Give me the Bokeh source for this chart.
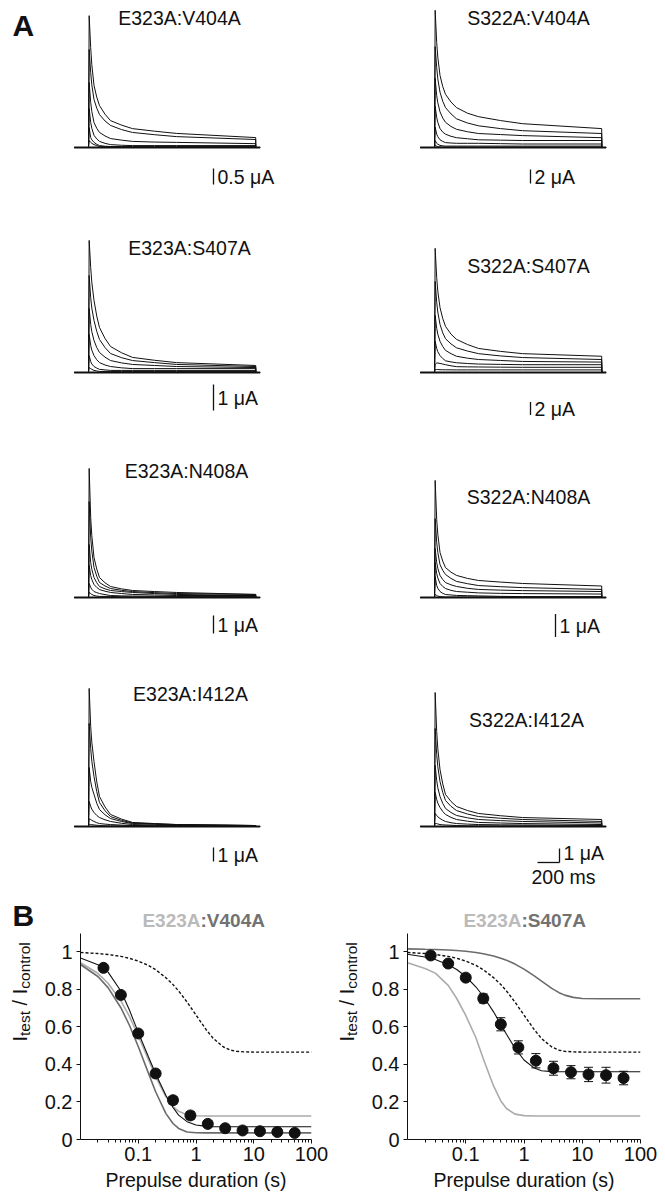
import math
from bokeh.plotting import figure
from bokeh.layouts import column, row
from bokeh.models import Range1d, Label, FixedTicker, PrintfTickFormatter, Title
from bokeh.embed import file_html
from bokeh.resources import INLINE

FONT = "Liberation Sans"
INK = "#111111"

# ======================= DATA =======================
# ---- Panel A: current traces (uA) sampled at these times after pulse onset ----
pulse_pre_ms = -130
pulse_end_ms = 1520
trace_t_ms = [6, 20, 30, 50, 75, 100, 150, 200, 300, 400, 600, 800, 1520]

e323a_v404a_uA = [
    [4.12, 3.12, 2.59, 1.94, 1.57, 1.31, 1.04, 0.84, 0.70, 0.59, 0.51, 0.44, 0.31],
    [3.06, 2.34, 1.96, 1.50, 1.23, 1.03, 0.83, 0.69, 0.56, 0.47, 0.40, 0.34, 0.25],
    [2.03, 1.41, 1.13, 0.78, 0.60, 0.47, 0.36, 0.28, 0.23, 0.19, 0.17, 0.16, 0.12],
    [1.22, 0.78, 0.60, 0.38, 0.27, 0.19, 0.13, 0.09, 0.07, 0.06, 0.06, 0.06, 0.06],
    [0.62, 0.31, 0.24, 0.16, 0.10, 0.06, 0.04, 0.03, 0.03, 0.03, 0.03, 0.03, 0.03],
    [0.22, 0.16, 0.13, 0.09, 0.06, 0.03, 0.02, 0.02, 0.01, 0.00, 0.00, 0.00, 0.00],
]
s322a_v404a_uA = [
    [19.6, 15.0, 12.9, 10.3, 8.7, 7.6, 6.5, 5.7, 4.9, 4.4, 3.85, 3.4, 2.7],
    [14.4, 11.4, 9.8, 7.9, 6.6, 5.7, 4.8, 4.1, 3.5, 3.1, 2.7, 2.4, 2.0],
    [9.9, 7.4, 6.4, 5.1, 4.2, 3.6, 3.0, 2.6, 2.25, 2.0, 1.85, 1.7, 1.4],
    [5.9, 4.3, 3.6, 2.7, 2.2, 1.9, 1.6, 1.4, 1.25, 1.1, 1.05, 1.0, 1.0],
    [2.9, 1.9, 1.55, 1.1, 0.87, 0.7, 0.64, 0.6, 0.6, 0.6, 0.55, 0.5, 0.5],
    [1.0, 0.6, 0.47, 0.3, 0.24, 0.2, 0.2, 0.2, 0.2, 0.2, 0.2, 0.2, 0.2],
    [0.4, 0.15, 0.11, 0.07, 0.05, 0.04, 0.04, 0.04, 0.04, 0.04, 0.04, 0.04, 0.04],
]
e323a_s407a_uA = [
    [5.08, 4.04, 3.47, 2.77, 2.17, 1.73, 1.31, 1.00, 0.76, 0.58, 0.47, 0.38, 0.27],
    [3.73, 2.88, 2.48, 2.00, 1.58, 1.27, 0.96, 0.73, 0.57, 0.46, 0.38, 0.31, 0.23],
    [2.46, 1.85, 1.57, 1.23, 0.96, 0.77, 0.59, 0.46, 0.37, 0.31, 0.27, 0.23, 0.19],
    [1.46, 1.04, 0.86, 0.65, 0.49, 0.38, 0.29, 0.23, 0.18, 0.15, 0.15, 0.15, 0.15],
    [0.65, 0.42, 0.33, 0.23, 0.17, 0.12, 0.10, 0.08, 0.08, 0.08, 0.08, 0.08, 0.08],
    [0.19, 0.15, 0.12, 0.08, 0.06, 0.04, 0.04, 0.04, 0.04, 0.04, 0.04, 0.04, 0.04],
]
s322a_s407a_uA = [
    [19.1, 14.6, 12.5, 10.0, 8.3, 7.1, 5.9, 5.1, 4.3, 3.7, 3.25, 2.9, 2.5],
    [14.0, 10.8, 9.3, 7.4, 6.1, 5.2, 4.4, 3.8, 3.3, 2.9, 2.55, 2.3, 2.0],
    [8.8, 6.8, 5.9, 4.8, 4.0, 3.4, 2.9, 2.5, 2.2, 2.0, 1.85, 1.7, 1.6],
    [4.8, 3.7, 3.2, 2.6, 2.15, 1.8, 1.63, 1.5, 1.38, 1.3, 1.25, 1.2, 1.2],
    [1.2, 1.5, 1.45, 1.4, 1.3, 1.2, 1.03, 0.9, 0.87, 0.85, 0.82, 0.8, 0.8],
    [0.46, 0.46, 0.45, 0.43, 0.42, 0.42, 0.41, 0.4, 0.4, 0.4, 0.4, 0.4, 0.4],
]
e323a_n408a_uA = [
    [7.17, 4.44, 3.44, 2.22, 1.58, 1.11, 0.82, 0.61, 0.48, 0.39, 0.33, 0.28, 0.17],
    [5.33, 3.33, 2.58, 1.67, 1.18, 0.83, 0.64, 0.50, 0.40, 0.33, 0.27, 0.22, 0.17],
    [2.94, 1.94, 1.57, 1.11, 0.82, 0.61, 0.48, 0.39, 0.33, 0.28, 0.22, 0.17, 0.11],
    [1.78, 1.22, 1.00, 0.72, 0.56, 0.44, 0.35, 0.28, 0.22, 0.17, 0.14, 0.11, 0.11],
    [0.78, 0.56, 0.46, 0.33, 0.27, 0.22, 0.16, 0.11, 0.09, 0.08, 0.07, 0.06, 0.06],
    [0.28, 0.22, 0.17, 0.11, 0.08, 0.06, 0.06, 0.06, 0.04, 0.03, 0.03, 0.03, 0.03],
]
s322a_n408a_uA = [
    [5.09, 3.39, 2.75, 1.96, 1.58, 1.30, 1.10, 0.96, 0.83, 0.74, 0.67, 0.61, 0.50],
    [3.43, 2.39, 1.96, 1.43, 1.18, 1.00, 0.83, 0.70, 0.60, 0.52, 0.47, 0.43, 0.35],
    [2.13, 1.52, 1.27, 0.96, 0.78, 0.65, 0.55, 0.48, 0.40, 0.35, 0.32, 0.30, 0.26],
    [1.52, 1.04, 0.85, 0.61, 0.48, 0.39, 0.31, 0.26, 0.23, 0.20, 0.18, 0.17, 0.15],
    [0.91, 0.52, 0.40, 0.26, 0.18, 0.13, 0.11, 0.09, 0.08, 0.07, 0.05, 0.04, 0.04],
    [0.13, 0.09, 0.06, 0.04, 0.03, 0.02, 0.02, 0.02, 0.02, 0.02, 0.02, 0.02, 0.02],
]
e323a_i412a_uA = [
    [9.86, 7.14, 6.02, 4.64, 3.19, 2.14, 1.40, 0.86, 0.53, 0.29, 0.21, 0.14, 0.07],
    [7.36, 5.57, 4.67, 3.57, 2.49, 1.71, 1.13, 0.71, 0.44, 0.25, 0.19, 0.14, 0.07],
    [4.21, 3.21, 2.80, 2.29, 1.66, 1.21, 0.84, 0.57, 0.36, 0.21, 0.16, 0.11, 0.07],
    [1.79, 1.43, 1.24, 1.00, 0.79, 0.64, 0.48, 0.36, 0.23, 0.14, 0.10, 0.07, 0.04],
    [0.54, 0.50, 0.44, 0.36, 0.27, 0.21, 0.17, 0.14, 0.10, 0.07, 0.05, 0.04, 0.04],
    [0.17, 0.14, 0.13, 0.11, 0.09, 0.07, 0.05, 0.04, 0.04, 0.04, 0.03, 0.02, 0.02],
]
s322a_i412a_uA = [
    [9.57, 6.79, 5.57, 4.07, 3.04, 2.29, 1.79, 1.43, 1.14, 0.93, 0.77, 0.64, 0.50],
    [7.00, 5.14, 4.27, 3.21, 2.43, 1.86, 1.44, 1.14, 0.89, 0.71, 0.59, 0.50, 0.36],
    [4.36, 3.29, 2.77, 2.14, 1.65, 1.29, 1.00, 0.79, 0.62, 0.50, 0.42, 0.36, 0.25],
    [2.43, 1.93, 1.67, 1.36, 1.07, 0.86, 0.65, 0.50, 0.38, 0.29, 0.25, 0.21, 0.14],
    [0.93, 0.79, 0.69, 0.57, 0.45, 0.36, 0.27, 0.21, 0.17, 0.14, 0.12, 0.11, 0.07],
    [0.21, 0.21, 0.18, 0.14, 0.12, 0.11, 0.09, 0.07, 0.05, 0.04, 0.04, 0.04, 0.04],
]
a_titles = ["E323A:V404A", "S322A:V404A", "E323A:S407A", "S322A:S407A",
            "E323A:N408A", "S322A:N408A", "E323A:I412A", "S322A:I412A"]
a_scale_uA = [0.5, 2, 1, 2, 1, 1, 1, 1]
time_bar_ms = 200

# ---- Panel B: normalised test current vs prepulse duration ----
prepulse_s = [0.025, 0.05, 0.1, 0.2, 0.4, 0.8, 1.6, 3.2, 6.4, 12.8, 25.6, 51.2]
e323a_v404a_mean = [0.913, 0.769, 0.564, 0.351, 0.209, 0.128, 0.083, 0.060, 0.048, 0.044, 0.040, 0.035]
e323a_v404a_sem = [0.008, 0.010, 0.010, 0.015, 0.020, 0.020, 0.015, 0.012, 0.012, 0.010, 0.010, 0.012]
e323a_s407a_mean = [0.979, 0.936, 0.861, 0.750, 0.613, 0.490, 0.419, 0.379, 0.358, 0.346, 0.342, 0.327]
e323a_s407a_sem = [0.008, 0.010, 0.012, 0.024, 0.035, 0.035, 0.038, 0.037, 0.035, 0.038, 0.042, 0.036]

fit_t_s = [0.01, 0.02, 0.03, 0.05, 0.07, 0.1, 0.15, 0.2, 0.3, 0.4, 0.5, 0.7, 1, 1.5, 2, 3, 4, 5, 7, 10, 20, 100]
wt_fit = [0.995, 0.989, 0.984, 0.974, 0.964, 0.949, 0.926, 0.903, 0.861, 0.824, 0.790, 0.731,
          0.662, 0.584, 0.537, 0.492, 0.475, 0.469, 0.466, 0.465, 0.465, 0.465]
e323a_fit_left = [0.940, 0.884, 0.831, 0.737, 0.656, 0.553, 0.425, 0.335, 0.228, 0.175, 0.150, 0.131,
                  0.126, 0.125, 0.125, 0.125, 0.125, 0.125, 0.125, 0.125, 0.125, 0.125]
v404a_fit = [0.931, 0.867, 0.808, 0.701, 0.609, 0.495, 0.353, 0.254, 0.139, 0.085, 0.059, 0.040,
             0.036, 0.035, 0.035, 0.035, 0.035, 0.035, 0.035, 0.035, 0.035, 0.035]
e323a_v404a_fit = [0.965, 0.930, 0.890, 0.790, 0.690, 0.570, 0.440, 0.350, 0.235, 0.170, 0.130, 0.095,
                   0.077, 0.070, 0.068, 0.068, 0.068, 0.068, 0.068, 0.068, 0.068, 0.068]
s407a_fit = [1.014, 1.012, 1.011, 1.008, 1.005, 1.001, 0.995, 0.988, 0.976, 0.964, 0.954, 0.933,
             0.906, 0.870, 0.842, 0.804, 0.781, 0.768, 0.756, 0.750, 0.749, 0.749]
e323a_fit_right = [0.940, 0.910, 0.885, 0.820, 0.750, 0.660, 0.540, 0.430, 0.285, 0.205, 0.165, 0.135,
                   0.127, 0.125, 0.125, 0.125, 0.125, 0.125, 0.125, 0.125, 0.125, 0.125]
e323a_s407a_fit = [0.985, 0.971, 0.957, 0.930, 0.904, 0.867, 0.811, 0.762, 0.679, 0.612, 0.560, 0.486,
                   0.423, 0.380, 0.366, 0.361, 0.360, 0.360, 0.360, 0.360, 0.360, 0.360]

# ======================= LAYOUT (page pixels) =======================
COL_X = [0, 332]
COL_W = [332, 333]
ROW_Y = [0, 200, 425, 650]
ROW_H = [200, 225, 225, 240]
PULSE_X = [88, 434]
BASE_Y = [147, 372, 597, 826]
MS_PER_PX = 200.0 / 22.0
PX_PER_UA = [32, 7, 26, 6.5, 18, 23, 14, 14]
TITLE_XY = [(179, 17), (528, 17), (189, 247), (528, 265),
            (186, 470), (528, 496), (190, 693), (526, 719)]
BAR_X = [213, 530, 213, 530, 213, 555, 213, 559]
BAR_CY = [176, 176, 397, 408, 624, 625, 854, 855]
LABEL_CY = [176, 176, 397, 408, 624, 625, 854, 852]
TXT = "19.5px"
NB = "\u00a0"
YT_PARTS = [("I", 20, 0, 0.278), ("test", 15.5, 4.5, 1.612),
            (NB + "/" + NB + "I", 20, 0, 1.112), ("control", 15.5, 4.5, 3.001)]


def lab(p, x, y, text, units="screen", **kw):
    opts = dict(text_font=FONT, text_font_size=TXT, text_color=INK,
                text_align="center", text_baseline="middle")
    opts.update(kw)
    p.add_layout(Label(x=x, y=y, x_units=units, y_units=units, text=text, **opts))


def blank(w, h):
    p = figure(width=w, height=h, x_range=Range1d(0, w), y_range=Range1d(0, h),
               x_axis_type=None, y_axis_type=None, toolbar_location=None,
               output_backend="svg", min_border=0)
    p.outline_line_color = None
    p.background_fill_color = "white"
    p.border_fill_color = "white"
    return p


def a_panel(i, traces):
    r, c = divmod(i, 2)
    fx, fy, W, H = COL_X[c], ROW_Y[r], COL_W[c], ROW_H[r]
    ppu = PX_PER_UA[i]
    x0 = -(PULSE_X[c] - fx) * MS_PER_PX
    b = fy + H - BASE_Y[r]
    p = figure(width=W, height=H, x_range=Range1d(x0, x0 + W * MS_PER_PX),
               y_range=Range1d(-b / ppu, (H - b) / ppu),
               x_axis_type=None, y_axis_type=None, toolbar_location=None,
               output_backend="svg", min_border=0)
    p.outline_line_color = None
    p.background_fill_color = "white"
    p.border_fill_color = "white"
    xs = [[pulse_pre_ms, 0] + trace_t_ms + [pulse_end_ms + 1, pulse_end_ms + 40] for _ in traces]
    ys = [[0, 0] + list(tr) + [0, 0] for tr in traces]
    p.multi_line(xs, ys, line_color=INK, line_width=1)
    p.line([pulse_pre_ms, pulse_end_ms + 40], [0, 0], line_color=INK, line_width=2)

    sx = lambda px: px - fx
    sy = lambda py: fy + H - py
    tx, ty = TITLE_XY[i]
    lab(p, sx(tx), sy(ty), a_titles[i])

    s = a_scale_uA[i]
    xb = (BAR_X[i] - PULSE_X[c]) * MS_PER_PX
    yc = (BASE_Y[r] - BAR_CY[i]) / ppu
    p.segment(x0=[xb], y0=[yc - s / 2], x1=[xb], y1=[yc + s / 2], line_color=INK, line_width=1.3)
    p.add_layout(Label(x=xb, y=(BASE_Y[r] - LABEL_CY[i]) / ppu, x_units="data", y_units="data",
                       x_offset=4, text=f"{s:g} μA", text_font=FONT, text_font_size=TXT,
                       text_color=INK, text_align="left", text_baseline="middle"))
    if i == 7:
        p.segment(x0=[xb - time_bar_ms], y0=[yc - s / 2], x1=[xb], y1=[yc - s / 2],
                  line_color=INK, line_width=1.3)
        lab(p, sx(563), sy(876), f"{time_bar_ms} ms")
    if i == 0:
        lab(p, sx(12), sy(25), "A", text_font_size="30px", text_font_style="bold",
            text_align="left")
    return p


a_data = [e323a_v404a_uA, s322a_v404a_uA, e323a_s407a_uA, s322a_s407a_uA,
          e323a_n408a_uA, s322a_n408a_uA, e323a_i412a_uA, s322a_i412a_uA]
a_figs = [a_panel(i, d) for i, d in enumerate(a_data)]

# ---- panel B layout ----
B_TITLE_TOP = 890
FRAME_TOP, FRAME_BOT = 933, 1139
PAGE_BOT = 1196
PX_PER_UNIT = 188.0
YT_W = [38, 33]
FRAME_L = [80, 407]
FRAME_R = [311, 640]
XLABEL_CX = [203.5, 532]
LIGHT = "#ababab"
DARK = "#6b6b6b"


def b_plot(c, mean, sem, curves):
    fx = COL_X[c] + YT_W[c]
    W = COL_W[c] - YT_W[c]
    p = figure(width=W, height=PAGE_BOT - FRAME_TOP, x_axis_type="log",
               x_range=Range1d(0.01, 100),
               y_range=Range1d(0, (FRAME_BOT - FRAME_TOP) / PX_PER_UNIT),
               toolbar_location=None, output_backend="svg",
               min_border_left=FRAME_L[c] - fx, min_border_right=fx + W - FRAME_R[c],
               min_border_top=0, min_border_bottom=PAGE_BOT - FRAME_BOT)
    p.outline_line_color = None
    p.grid.visible = False
    p.background_fill_color = "white"
    p.border_fill_color = "white"

    xa = p.xaxis[0]
    xa.ticker = FixedTicker(ticks=[0.1, 1, 10, 100],
                            minor_ticks=[m * 10.0 ** e for e in range(-2, 2) for m in range(2, 10)])
    xa.formatter = PrintfTickFormatter(format="%g")
    ya = p.yaxis[0]
    ya.ticker = FixedTicker(ticks=[0, 0.2, 0.4, 0.6, 0.8, 1])
    ya.formatter = PrintfTickFormatter(format="%g")
    for ax in (xa, ya):
        ax.axis_line_color = INK
        ax.axis_line_width = 1
        ax.major_tick_line_color = INK
        ax.minor_tick_line_color = INK
        ax.major_tick_in = 0
        ax.major_tick_out = 4
        ax.minor_tick_in = 0
        ax.minor_tick_out = 3
        ax.major_label_text_font = FONT
        ax.major_label_text_font_size = "20px"
        ax.major_label_text_color = INK
        ax.major_label_standoff = 3
    ya.major_label_standoff = 4
    ya.minor_tick_line_color = None

    p.add_layout(Title(text="Prepulse duration (s)", align="center",
                       offset=XLABEL_CX[c] - (fx + W / 2),
                       standoff=8, vertical_align="middle", text_font=FONT,
                       text_font_size="19.5px", text_font_style="normal", text_color=INK),
                 "below")

    for vals, color, dash, width in curves:
        p.line(fit_t_s, vals, line_color=color, line_dash=dash, line_width=width)

    lo = [m - e for m, e in zip(mean, sem)]
    hi = [m + e for m, e in zip(mean, sem)]
    p.segment(x0=prepulse_s, y0=lo, x1=prepulse_s, y1=hi, line_color=INK, line_width=1)
    p.scatter(prepulse_s, hi, marker="dash", size=9, line_color=INK, line_width=1)
    p.scatter(prepulse_s, lo, marker="dash", size=9, line_color=INK, line_width=1)
    p.scatter(prepulse_s, mean, marker="circle", size=11, fill_color=INK, line_color=INK)
    return p


def b_title(c, part_a, part_b, split_x):
    p = blank(COL_W[c], FRAME_TOP - B_TITLE_TOP)
    sx = lambda px: px - COL_X[c]
    sy = lambda py: FRAME_TOP - py
    lab(p, sx(split_x), sy(920), part_a, text_font_size="19px", text_font_style="bold",
        text_color="#bababa", text_align="right")
    lab(p, sx(split_x), sy(920), part_b, text_font_size="19px", text_font_style="bold",
        text_color="#727272", text_align="left")
    if c == 0:
        lab(p, sx(12), sy(915), "B", text_font_size="30px", text_font_style="bold",
            text_align="left")
    return p


def b_ytitle(c):
    p = blank(YT_W[c], PAGE_BOT - FRAME_TOP)
    base_x = FRAME_L[c] - 61 - COL_X[c]
    pos = PAGE_BOT - 1098
    for txt, fs, dx, em in YT_PARTS:
        w = em * fs
        p.add_layout(Label(x=base_x + dx, y=pos + w / 2, x_units="screen", y_units="screen",
                           text=txt, angle=math.pi / 2, text_font=FONT, text_font_size=f"{fs}px",
                           text_color=INK, text_align="center", text_baseline="middle"))
        pos += w
    return p


b_plot_left = b_plot(0, e323a_v404a_mean, e323a_v404a_sem,
                     [(wt_fit, INK, "3 2", 1.4), (e323a_fit_left, LIGHT, "solid", 1.6),
                      (v404a_fit, DARK, "solid", 1.6), (e323a_v404a_fit, INK, "solid", 1.1)])
b_plot_right = b_plot(1, e323a_s407a_mean, e323a_s407a_sem,
                      [(s407a_fit, DARK, "solid", 1.6), (e323a_fit_right, LIGHT, "solid", 1.6),
                       (wt_fit, INK, "3 2", 1.4), (e323a_s407a_fit, INK, "solid", 1.1)])

layout = column(
    row(a_figs[0], a_figs[1]),
    row(a_figs[2], a_figs[3]),
    row(a_figs[4], a_figs[5]),
    row(a_figs[6], a_figs[7]),
    row(b_title(0, "E323A", ":V404A", 200), b_title(1, "E323A", ":S407A", 521)),
    row(b_ytitle(0), b_plot_left, b_ytitle(1), b_plot_right),
)

open("out.html", "w").write(file_html(layout, INLINE))
